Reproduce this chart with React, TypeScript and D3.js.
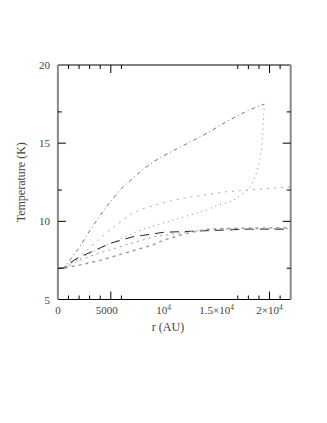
import React, { useEffect, useRef } from 'react';
import * as d3 from 'd3';

// radius in units of 1000 AU, temperature in K
const rA = [0, 0.6, 1, 2, 3, 4, 5, 6, 7, 8, 9, 10, 12, 14, 16, 18, 19.5];
const tA = [7.0, 7.05, 7.4, 8.3, 9.4, 10.4, 11.3, 12.1, 12.7, 13.3, 13.8, 14.2, 14.9, 15.6, 16.4, 17.1, 17.5];

const rB = [0, 0.6, 1, 2, 3, 4, 5, 6, 7, 8, 9, 10, 12, 14, 16, 18, 20, 22];
const tB = [7.0, 7.05, 7.2, 7.7, 8.3, 8.9, 9.5, 10.0, 10.5, 10.8, 11.0, 11.2, 11.5, 11.7, 11.9, 12.0, 12.1, 12.2];

const rC = [0, 0.6, 2, 4, 6, 8, 9, 10, 12, 14, 15, 16.5, 17.5, 18.3, 18.8, 19.1, 19.3, 19.4, 19.5];
const tC = [7.0, 7.05, 7.6, 8.3, 8.9, 9.5, 9.7, 9.9, 10.3, 10.7, 11.0, 11.3, 11.8, 12.3, 13.2, 14.0, 15.0, 16.2, 17.5];

const rD = [0, 0.6, 1, 2, 3, 4, 5, 6, 7, 8, 9, 10, 12, 14, 16, 18, 22];
const tD = [7.0, 7.0, 7.3, 7.7, 8.0, 8.3, 8.6, 8.8, 9.0, 9.1, 9.2, 9.3, 9.35, 9.4, 9.45, 9.5, 9.5];

const rE = [0, 0.6, 2, 4, 6, 7, 8, 9, 10, 12, 14, 16, 22];
const tE = [7.0, 7.0, 7.5, 8.0, 8.4, 8.6, 8.8, 9.0, 9.1, 9.3, 9.45, 9.5, 9.55];

const rF = [0, 0.6, 2, 4, 6, 7, 8, 9, 10, 11, 12, 13, 14, 16, 22];
const tF = [7.0, 7.0, 7.2, 7.5, 7.9, 8.1, 8.3, 8.5, 8.8, 9.0, 9.2, 9.35, 9.5, 9.55, 9.6];

const yMajor = [10, 15];
const yMinor = [7, 12, 17];
const yLabels = [5, 10, 15, 20];
const xMajor = [5, 20];
const xMinor = [1, 2, 3, 4, 6, 17, 18, 19, 21];
const xLabels = [
  { v: 0, t: '0' },
  { v: 5, t: '5000' },
  { v: 10, t: '10', sup: '4' },
  { v: 15, t: '1.5×10', sup: '4' },
  { v: 20, t: '2×10', sup: '4' },
];

const series = [
  { r: rA, t: tA, color: '#666', dash: '1,3,4,3', w: 0.9 },
  { r: rB, t: tB, color: '#aaa', dash: '2,5', w: 1 },
  { r: rC, t: tC, color: '#888', dash: '1,4', w: 1 },
  { r: rD, t: tD, color: '#222', dash: '9,6', w: 1 },
  { r: rE, t: tE, color: '#999', dash: '2,4', w: 1 },
  { r: rF, t: tF, color: '#999', dash: '3,4', w: 1.4 },
];

export default function App() {
  const svgRef = useRef(null);

  useEffect(() => {
    document.body.style.margin = '0';
    const svg = d3.select(svgRef.current);
    svg.html('');

    const left = 57.9, right = 290.7, top = 65, bottom = 299.5;
    const x = d3.scaleLinear().domain([0, 22]).range([left, right]);
    const y = d3.scaleLinear().domain([5, 20]).range([bottom, top]);
    const font = '"Liberation Serif", "DejaVu Serif", serif';

    // curves
    const line = d3.line().x(d => x(d[0])).y(d => y(d[1]));
    series.forEach(s => {
      svg.append('path')
        .attr('d', line(s.r.map((r, i) => [r, s.t[i]])))
        .attr('fill', 'none')
        .attr('stroke', s.color)
        .attr('stroke-width', s.w)
        .attr('stroke-dasharray', s.dash);
    });

    // frame
    svg.append('line').attr('x1', left).attr('x2', right).attr('y1', top).attr('y2', top)
      .attr('stroke', '#000').attr('stroke-width', 1);
    svg.append('line').attr('x1', left).attr('x2', right).attr('y1', bottom).attr('y2', bottom)
      .attr('stroke', '#000').attr('stroke-width', 1);
    svg.append('line').attr('x1', left).attr('x2', left).attr('y1', top).attr('y2', bottom)
      .attr('stroke', '#888').attr('stroke-width', 2);
    svg.append('line').attr('x1', right).attr('x2', right).attr('y1', top).attr('y2', bottom)
      .attr('stroke', '#888').attr('stroke-width', 2);

    // y ticks (both sides)
    const yt = [...yMajor.map(v => [v, 8]), ...yMinor.map(v => [v, 4])];
    yt.forEach(([v, len]) => {
      svg.append('line').attr('x1', left).attr('x2', left + len)
        .attr('y1', y(v)).attr('y2', y(v)).attr('stroke', '#000').attr('stroke-width', 1);
      svg.append('line').attr('x1', right).attr('x2', right - len)
        .attr('y1', y(v)).attr('y2', y(v)).attr('stroke', '#000').attr('stroke-width', 1);
    });

    // x ticks (top and bottom)
    const xt = [...xMajor.map(v => [v, 8]), ...xMinor.map(v => [v, 4])];
    xt.forEach(([v, len]) => {
      svg.append('line').attr('x1', x(v)).attr('x2', x(v))
        .attr('y1', bottom).attr('y2', bottom - len).attr('stroke', '#000').attr('stroke-width', 1);
      svg.append('line').attr('x1', x(v)).attr('x2', x(v))
        .attr('y1', top).attr('y2', top + len).attr('stroke', '#000').attr('stroke-width', 1);
    });

    // y labels
    svg.selectAll('text.yl').data(yLabels).join('text')
      .attr('class', 'yl')
      .attr('x', 50).attr('y', d => y(d) + 4)
      .attr('text-anchor', 'end')
      .style('font-family', font).style('font-size', '11px').attr('fill', '#444')
      .text(d => d);

    // x labels
    xLabels.forEach(l => {
      const tx = svg.append('text')
        .attr('x', x(l.v) - (l.v === 5 ? 4 : 0)).attr('y', 314)
        .attr('text-anchor', 'middle')
        .style('font-family', font).style('font-size', '11px').attr('fill', '#444');
      tx.append('tspan').text(l.t);
      if (l.sup) tx.append('tspan').attr('dy', -4).style('font-size', '7.5px').text(l.sup);
    });

    // axis titles
    svg.append('text').attr('x', 168).attr('y', 331).attr('text-anchor', 'middle')
      .style('font-family', font).style('font-size', '12px').attr('fill', '#444')
      .text('r (AU)');
    svg.append('text').attr('transform', `translate(25,${(top + bottom) / 2}) rotate(-90)`)
      .attr('text-anchor', 'middle')
      .style('font-family', font).style('font-size', '12px').attr('fill', '#444')
      .text('Temperature (K)');
  }, []);

  return <svg ref={svgRef} width={327} height={423} style={{ display: 'block', background: '#fff' }}></svg>;
}
